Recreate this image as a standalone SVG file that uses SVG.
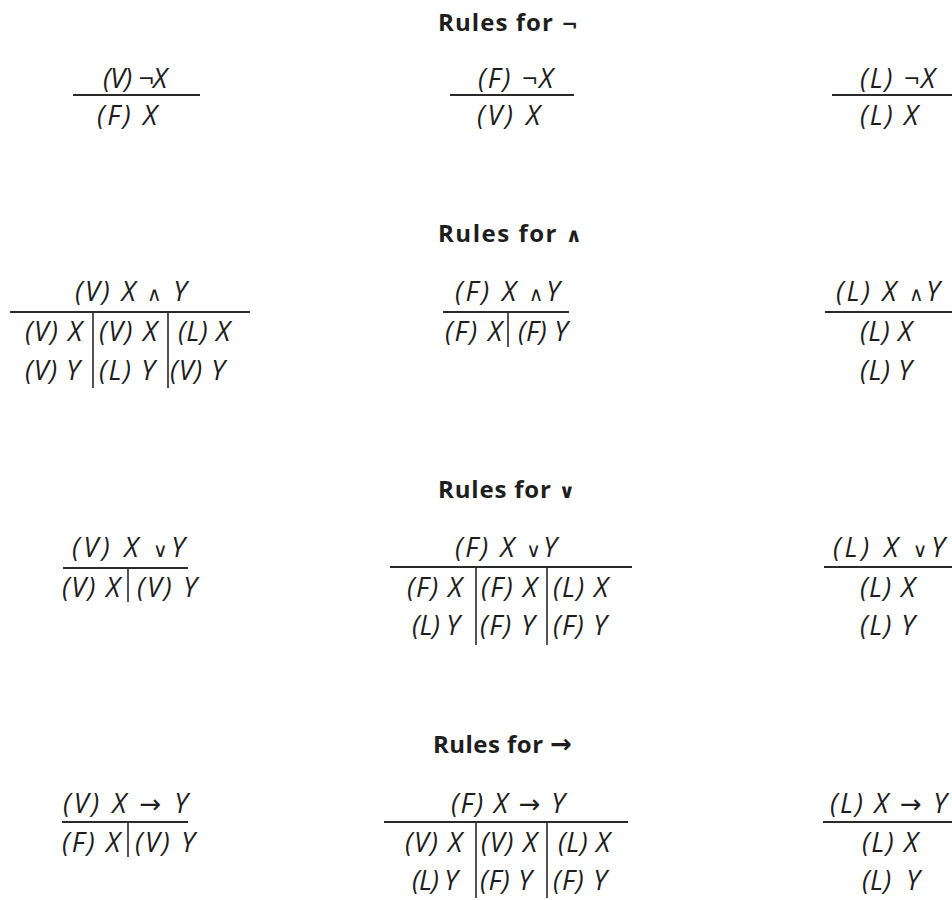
<svg xmlns="http://www.w3.org/2000/svg" width="952" height="900" viewBox="0 0 952 900">
<style>
text{font-family:"Open Sans","Liberation Sans",sans-serif;fill:#1e1e1e;white-space:pre}
.t{font-size:24px;font-weight:bold}
.f{font-size:27px;font-style:italic}
.s{font-family:"DejaVu Sans",sans-serif;font-style:normal;font-size:20px}
.a{font-family:"DejaVu Sans",sans-serif;font-style:normal;font-size:26px}
.h{stroke:#2a2a2a;stroke-width:2;fill:none}
.v{stroke:#2a2a2a;stroke-width:1.6;fill:none}
</style>
<rect width="952" height="900" fill="#fff"/>
<g id="titles">
<text class="t" x="438" y="31" textLength="140">Rules for <tspan class="s">¬</tspan></text>
<text class="t" x="438" y="242" textLength="144">Rules for <tspan class="s">∧</tspan></text>
<text class="t" x="438" y="498" textLength="137">Rules for <tspan class="s">∨</tspan></text>
<text class="t" x="433" y="753" textLength="139">Rules for <tspan class="a">→</tspan></text>
</g>
<g id="neg-V">
<text class="f" x="103" y="88" textLength="64">(V) ¬X</text>
<line class="h" x1="73" y1="95" x2="200" y2="95"/>
<text class="f" x="97" y="125" textLength="60">(F) X</text>
</g>
<g id="neg-F">
<text class="f" x="478" y="88" textLength="75">(F) ¬X</text>
<line class="h" x1="450" y1="95" x2="574" y2="95"/>
<text class="f" x="477" y="125" textLength="63">(V) X</text>
</g>
<g id="neg-L">
<text class="f" x="860" y="88" textLength="75">(L) ¬X</text>
<line class="h" x1="832" y1="95" x2="952" y2="95"/>
<text class="f" x="860" y="125" textLength="58">(L) X</text>
</g>
<g id="and-V">
<text class="f" x="75" y="301" textLength="112">(V) X <tspan class="s">∧</tspan> Y</text>
<line class="h" x1="10" y1="312" x2="250" y2="312"/>
<line class="v" x1="93" y1="312" x2="93" y2="388"/>
<line class="v" x1="168" y1="312" x2="168" y2="388"/>
<text class="f" x="25" y="341" textLength="57">(V) X</text>
<text class="f" x="99" y="341" textLength="58">(V) X</text>
<text class="f" x="178" y="341" textLength="52">(L) X</text>
<text class="f" x="25" y="380" textLength="55">(V) Y</text>
<text class="f" x="99" y="380" textLength="56">(L) Y</text>
<text class="f" x="170" y="380" textLength="55">(V) Y</text>
</g>
<g id="and-F">
<text class="f" x="455" y="301" textLength="105">(F) X <tspan class="s">∧</tspan>Y</text>
<line class="h" x1="443" y1="312" x2="569" y2="312"/>
<line class="v" x1="508" y1="312" x2="508" y2="347"/>
<text class="f" x="445" y="341" textLength="57">(F) X</text>
<text class="f" x="518" y="341" textLength="50">(F) Y</text>
</g>
<g id="and-L">
<text class="f" x="836" y="301" textLength="104">(L) X <tspan class="s">∧</tspan>Y</text>
<line class="h" x1="825" y1="312" x2="952" y2="312"/>
<text class="f" x="860" y="341" textLength="52">(L) X</text>
<text class="f" x="860" y="380" textLength="52">(L) Y</text>
</g>
<g id="or-V">
<text class="f" x="72" y="557" textLength="113">(V) X <tspan class="s">∨</tspan>Y</text>
<line class="h" x1="63" y1="568" x2="188" y2="568"/>
<line class="v" x1="128" y1="568" x2="128" y2="602"/>
<text class="f" x="62" y="597" textLength="58">(V) X</text>
<text class="f" x="137" y="597" textLength="60">(V) Y</text>
</g>
<g id="or-F">
<text class="f" x="455" y="557" textLength="102">(F) X <tspan class="s">∨</tspan>Y</text>
<line class="h" x1="390" y1="567" x2="632" y2="567"/>
<line class="v" x1="476" y1="567" x2="476" y2="645"/>
<line class="v" x1="547" y1="567" x2="547" y2="645"/>
<text class="f" x="407" y="597" textLength="55">(F) X</text>
<text class="f" x="481" y="597" textLength="56">(F) X</text>
<text class="f" x="553" y="597" textLength="55">(L) X</text>
<text class="f" x="412" y="635" textLength="48">(L) Y</text>
<text class="f" x="480" y="635" textLength="55">(F) Y</text>
<text class="f" x="553" y="635" textLength="54">(F) Y</text>
</g>
<g id="or-L">
<text class="f" x="833" y="557" textLength="112">(L) X <tspan class="s">∨</tspan>Y</text>
<line class="h" x1="824" y1="567" x2="952" y2="567"/>
<text class="f" x="860" y="597" textLength="55">(L) X</text>
<text class="f" x="860" y="635" textLength="55">(L) Y</text>
</g>
<g id="imp-V">
<text class="f" x="63" y="813" textLength="125">(V) X <tspan class="a">→</tspan> Y</text>
<line class="h" x1="62" y1="822" x2="188" y2="822"/>
<line class="v" x1="128" y1="822" x2="128" y2="857"/>
<text class="f" x="62" y="852" textLength="58">(F) X</text>
<text class="f" x="135" y="852" textLength="60">(V) Y</text>
</g>
<g id="imp-F">
<text class="f" x="451" y="813" textLength="114">(F) X <tspan class="a">→</tspan> Y</text>
<line class="h" x1="384" y1="822" x2="628" y2="822"/>
<line class="v" x1="476" y1="822" x2="476" y2="898"/>
<line class="v" x1="547" y1="822" x2="547" y2="898"/>
<text class="f" x="405" y="852" textLength="57">(V) X</text>
<text class="f" x="481" y="852" textLength="56">(V) X</text>
<text class="f" x="558" y="852" textLength="52">(L) X</text>
<text class="f" x="412" y="890" textLength="46">(L) Y</text>
<text class="f" x="480" y="890" textLength="52">(F) Y</text>
<text class="f" x="553" y="890" textLength="54">(F) Y</text>
</g>
<g id="imp-L">
<text class="f" x="830" y="813" textLength="117">(L) X <tspan class="a">→</tspan> Y</text>
<line class="h" x1="823" y1="822" x2="952" y2="822"/>
<text class="f" x="862" y="852" textLength="56">(L) X</text>
<text class="f" x="862" y="890" textLength="58">(L)  Y</text>
</g>
<g id="connectors"/>
</svg>
